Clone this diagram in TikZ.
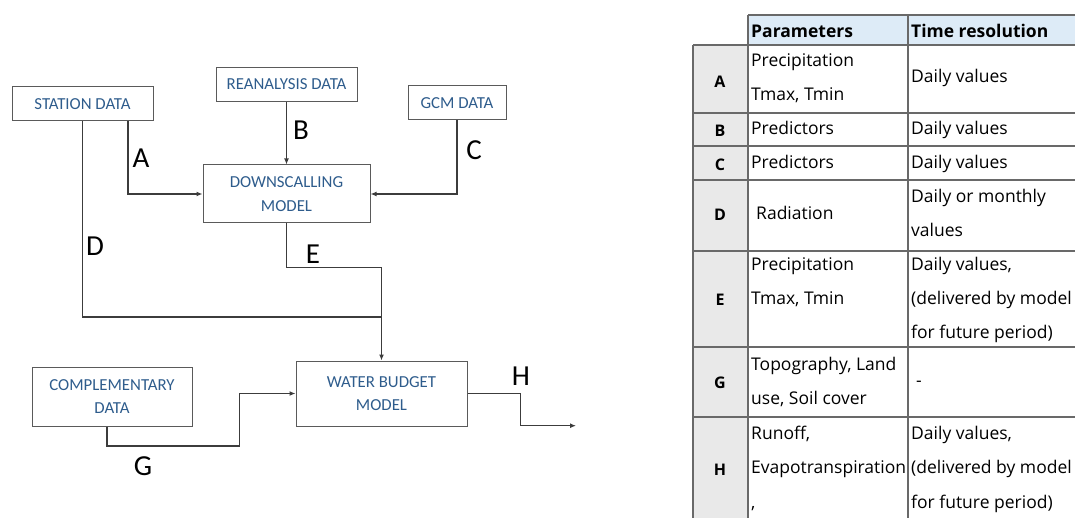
\documentclass[tikz,border=0pt]{standalone}
\usepackage{fontspec}
\setmainfont{Carlito}
\newfontfamily\tabfont{Open Sans}
\usetikzlibrary{arrows.meta}
\definecolor{boxblue}{RGB}{46,92,140}
\definecolor{boxline}{RGB}{90,90,90}
\definecolor{conn}{RGB}{60,60,60}
\definecolor{hdrblue}{RGB}{221,235,247}
\definecolor{colgray}{RGB}{233,233,233}
\definecolor{tabline}{RGB}{105,105,105}
\tikzset{
  box/.style={draw=boxline, line width=1pt, text=boxblue, align=center,
    font=\fontsize{16.8}{23.5}\selectfont, inner sep=0pt},
  conline/.style={draw=conn, line width=1.3pt},
  arr/.style={conline, -{Latex[length=6pt,width=5pt]}},
  lbl/.style={font=\fontsize{29}{30}\selectfont, inner sep=0pt},
  tt/.style={font=\tabfont\fontsize{17.5}{20}\selectfont, inner sep=0pt, anchor=base west},
  tb/.style={font=\tabfont\bfseries\fontsize{17.5}{20}\selectfont, inner sep=0pt, anchor=base west},
  tl/.style={font=\tabfont\bfseries\fontsize{16}{18}\selectfont, inner sep=0pt},
  grid/.style={draw=tabline, line width=1.3pt}
}
\begin{document}
\begin{tikzpicture}[x=1pt,y=-1pt]
\useasboundingbox (0,0) rectangle (1075,518);
% ---------- diagram ----------
\node[box, minimum width=141pt, minimum height=34pt] (station) at (82.5,104) {STATION DATA};
\node[box, minimum width=141pt, minimum height=34pt] (rean) at (286.5,84.5) {REANALYSIS DATA};
\node[box, minimum width=98pt, minimum height=34pt] (gcm) at (457,103) {GCM DATA};
\node[box, minimum width=167pt, minimum height=58pt] (down) at (286.5,194) {DOWNSCALLING\\MODEL};
\node[box, minimum width=160pt, minimum height=59pt] (compl) at (112,396.5) {COMPLEMENTARY\\DATA};
\node[box, minimum width=171pt, minimum height=65pt] (wb) at (381.5,393.5) {WATER BUDGET\\MODEL};

\coordinate (ax) at (128,0);
\coordinate (dj) at (381.5,317);
\coordinate (ej) at (381.5,267.5);
\coordinate (gx) at (107,0);
\coordinate (g1) at (239.3,446);
\coordinate (h1) at (520.5,425.7);
\coordinate (hend) at (576,425.7);

\draw[arr] (station.south -| ax) |- (down.west);
\draw[arr] (rean.south) -- (down.north);
\draw[arr] (gcm.south) |- (down.east);
\draw[arr] (station.south) |- (dj) -- (wb.north);
\draw[conline] (down.south) |- (ej) -- (dj);
\draw[arr] (compl.south -| gx) |- (g1) |- (wb.west);
\draw[arr] (wb.east) -| (h1) -- (hend);

\node[lbl] (lA) at (141,158) {A};
\node[lbl] (lB) at (301,130) {B};
\node[lbl] (lC) at (474,150) {C};
\node[lbl] (lD) at (95,246) {D};
\node[lbl] (lE) at (313,254) {E};
\node[lbl] (lG) at (143,466) {G};
\node[lbl] (lH) at (521,376) {H};

% ---------- table ----------
\fill[hdrblue] (748,15) rectangle (1075,45);
\fill[colgray] (693,45) rectangle (748,518);
\draw[grid] (748,15) -- (1075,15);
\foreach \yy in {45,113,146,180,251,347,417}
  \draw[grid] (693,\yy) -- (1075,\yy);
\draw[grid] (693,45) -- (693,518);
\draw[grid] (748,15) -- (748,518);
\draw[grid] (908,15) -- (908,518);

\node[tb] (h1t) at (751,38) {Parameters};
\node[tb] (h2t) at (911,38) {Time resolution};

\node[tl] (rA) at (720,82) {A};
\node[tl] (rB) at (720,131) {B};
\node[tl] (rC) at (720,165) {C};
\node[tl] (rD) at (720,215) {D};
\node[tl] (rE) at (720,300) {E};
\node[tl] (rG) at (720,383) {G};
\node[tl] (rH) at (720,470) {H};

\node[tt] (pA1) at (751,67) {Precipitation};
\node[tt] (pA2) at (751,101) {Tmax, Tmin};
\node[tt] (tA1) at (911,83) {Daily values};
\node[tt] (pB1) at (751,135) {Predictors};
\node[tt] (tB1) at (911,135) {Daily values};
\node[tt] (pC1) at (751,169) {Predictors};
\node[tt] (tC1) at (911,169) {Daily values};
\node[tt] (pD1) at (756,220) {Radiation};
\node[tt] (tD1) at (911,203) {Daily or monthly};
\node[tt] (tD2) at (911,237) {values};
\node[tt] (pE1) at (751,271) {Precipitation};
\node[tt] (pE2) at (751,305) {Tmax, Tmin};
\node[tt] (tE1) at (911,271) {Daily values,};
\node[tt] (tE2) at (911,305) {(delivered by model};
\node[tt] (tE3) at (911,338) {for future period)};
\node[tt] (pG1) at (751,370) {Topography, Land};
\node[tt] (pG2) at (751,404) {use, Soil cover};
\node[tt] (tG1) at (916,386) {-};
\node[tt] (pH1) at (751,439) {Runoff,};
\node[tt] (pH2) at (751,473) {Evapotranspiration};
\node[tt] (pH3) at (751,508) {,};
\node[tt] (tH1) at (911,439) {Daily values,};
\node[tt] (tH2) at (911,473) {(delivered by model};
\node[tt] (tH3) at (911,508) {for future period)};
\end{tikzpicture}
\end{document}
